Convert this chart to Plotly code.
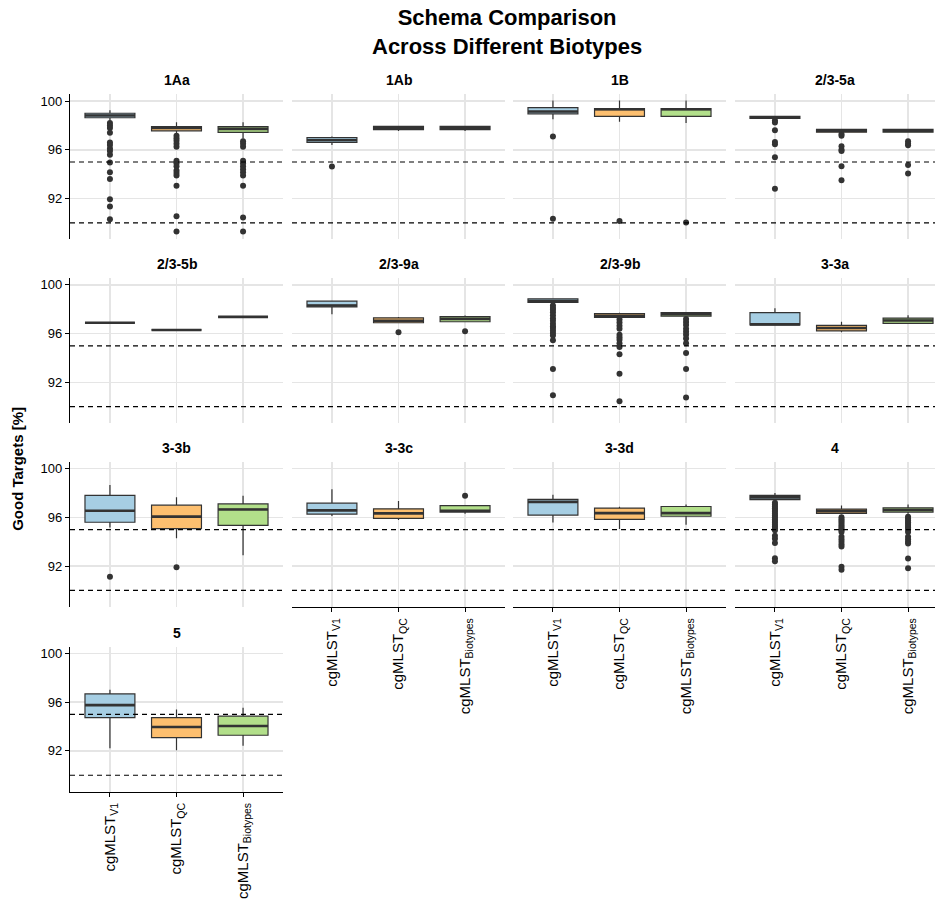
import plotly.graph_objects as go

PANELS = ["1Aa", "1Ab", "1B", "2/3-5a", "2/3-5b", "2/3-9a", "2/3-9b",
          "3-3a", "3-3b", "3-3c", "3-3d", "4", "5"]
TICK_LABELS = ["cgMLST<sub>V1</sub>", "cgMLST<sub>QC</sub>", "cgMLST<sub>Biotypes</sub>"]
Y_TICKS = [92, 96, 100]
THRESHOLDS = [95, 90]

# cgMLST V1
V1_LO = [98.40, 96.40, 98.50, 98.58, 96.89, 97.59, 98.50, 96.70, 95.17, 96.11, 95.58, 97.30, 92.22]
V1_Q1 = [98.63, 96.60, 98.95, 98.58, 96.89, 98.20, 98.55, 96.72, 95.60, 96.27, 96.19, 97.45, 94.72]
V1_MED = [98.82, 96.78, 99.14, 98.66, 96.89, 98.31, 98.66, 96.76, 96.54, 96.57, 97.27, 97.64, 95.75]
V1_Q3 = [99.00, 97.00, 99.46, 98.74, 96.89, 98.66, 98.85, 97.72, 97.80, 97.16, 97.48, 97.80, 96.67]
V1_HI = [99.25, 97.10, 100.05, 98.74, 96.89, 98.66, 98.90, 98.07, 98.66, 98.31, 97.86, 97.99, 97.02]
V1_OUT = [
    [98.2, 98.0, 97.8, 97.4, 96.6, 96.4, 96.1, 95.9, 95.6, 94.95, 94.15, 93.6, 91.95, 91.35, 90.3],
    [94.64],
    [97.1, 90.35],
    [98.4, 98.25, 97.6, 96.65, 96.45, 95.4, 92.8],
    [],
    [],
    [98.3, 98.1, 97.95, 97.75, 97.5, 97.25, 97.05, 96.8, 96.6, 96.45, 96.25, 96.05, 95.85, 95.45, 93.1, 90.95],
    [],
    [91.13],
    [],
    [],
    [97.2, 97.05, 96.9, 96.75, 96.6, 96.45, 96.3, 96.15, 96.0, 95.85, 95.7, 95.55, 95.4, 95.25,
     95.1, 94.95, 94.5, 94.25, 93.9, 92.65, 92.4],
    [],
]

# cgMLST QC
QC_LO = [97.30, 97.55, 98.30, 97.45, 96.30, 96.85, 97.30, 96.11, 94.29, 95.79, 95.04, 96.25, 92.06]
QC_Q1 = [97.56, 97.65, 98.74, 97.45, 96.30, 96.89, 97.32, 96.22, 95.07, 95.92, 95.84, 96.33, 93.09]
QC_MED = [97.80, 97.77, 99.33, 97.56, 96.30, 97.05, 97.45, 96.46, 96.06, 96.33, 96.35, 96.51, 93.96]
QC_Q3 = [97.91, 97.92, 99.38, 97.67, 96.30, 97.29, 97.64, 96.68, 97.00, 96.70, 96.76, 96.68, 94.72]
QC_HI = [98.26, 97.98, 100.05, 97.67, 96.30, 97.37, 97.70, 96.97, 97.64, 97.35, 96.86, 96.97, 95.39]
QC_OUT = [
    [97.15, 96.95, 96.75, 96.5, 96.25, 95.1, 94.9, 94.65, 94.3, 94.1, 93.9, 93.05, 90.55, 89.3],
    [],
    [90.16],
    [97.3, 97.15, 96.3, 96.0, 95.9, 94.65, 93.5],
    [],
    [96.11],
    [97.15, 96.9, 96.65, 96.4, 95.9, 95.7, 95.5, 95.2, 94.9, 94.3, 92.7, 90.45],
    [],
    [91.9],
    [],
    [],
    [96.0, 95.85, 95.7, 95.55, 95.4, 95.25, 95.1, 94.95, 94.8, 94.4, 94.2, 94.0, 93.8, 93.6, 91.95, 91.7],
    [],
]

# cgMLST Biotypes
BIO_LO = [96.92, 97.55, 98.20, 97.45, 97.37, 96.94, 97.40, 96.80, 92.90, 96.30, 95.39, 96.30, 92.41]
BIO_Q1 = [97.43, 97.65, 98.74, 97.45, 97.37, 96.97, 97.43, 96.84, 95.34, 96.43, 96.09, 96.43, 93.28]
BIO_MED = [97.72, 97.77, 99.33, 97.56, 97.37, 97.21, 97.59, 97.08, 96.65, 96.54, 96.35, 96.60, 94.04]
BIO_Q3 = [97.91, 97.92, 99.38, 97.67, 97.37, 97.40, 97.72, 97.27, 97.10, 96.97, 96.89, 96.78, 94.85]
BIO_HI = [98.26, 97.98, 100.05, 97.67, 97.37, 97.48, 97.75, 97.51, 97.77, 97.02, 97.05, 97.05, 95.53]
BIO_OUT = [
    [96.7, 96.5, 96.25, 95.1, 94.9, 94.65, 94.4, 94.15, 93.9, 93.05, 90.45, 89.3],
    [],
    [90.03],
    [96.7, 96.5, 96.38, 94.75, 94.05],
    [],
    [96.19],
    [97.2, 96.95, 96.7, 96.4, 96.15, 95.9, 95.6, 95.2, 94.4, 93.1, 90.75],
    [],
    [],
    [97.77],
    [],
    [96.05, 95.9, 95.75, 95.6, 95.45, 95.3, 95.15, 95.0, 94.8, 94.4, 94.2, 94.0, 93.85, 92.63, 91.82],
    [],
]

FILLS = ["#A6CEE3", "#FDBF6F", "#B2DF8A"]
SCHEMA_STATS = [
    (V1_LO, V1_Q1, V1_MED, V1_Q3, V1_HI, V1_OUT),
    (QC_LO, QC_Q1, QC_MED, QC_Q3, QC_HI, QC_OUT),
    (BIO_LO, BIO_Q1, BIO_MED, BIO_Q3, BIO_HI, BIO_OUT),
]

W, H = 935, 899
FONT = "Liberation Sans, Arial, sans-serif"
DARK = "#333333"
GRID = "#E5E5E5"
BOX_W = 0.75

# panel geometry in pixels
COL_X = [(70, 283), (292, 505), (513, 726), (735, 935)]
ROW_Y = [(94, 240), (279, 425), (464, 610), (650, 796)]
UNIT = (283 - 70) / 3.2
X_RANGES = [[-0.6, 2.6], [-0.6, 2.6], [-0.6, 2.6], [-0.6, -0.6 + (935 - 735) / UNIT]]
Y_RANGE = [88.65, 100.55]
BOTTOM_PANELS = {9, 10, 11, 12}

fig = go.Figure()
layout = dict(
    width=W, height=H, autosize=False,
    margin=dict(l=0, r=0, t=0, b=0),
    paper_bgcolor="white", plot_bgcolor="white",
    showlegend=False,
    font=dict(family=FONT, color="black"),
)
annotations = []
shapes = []

for k, name in enumerate(PANELS):
    r, c = divmod(k, 4)
    n = "" if k == 0 else str(k + 1)
    x0, x1 = COL_X[c]
    y0, y1 = ROW_Y[r]
    xa = dict(
        domain=[x0 / W, x1 / W], range=X_RANGES[c], anchor="y" + n,
        tickvals=[0, 1, 2], ticktext=TICK_LABELS,
        showgrid=True, gridcolor=GRID, gridwidth=1.5, zeroline=False,
        showticklabels=k in BOTTOM_PANELS, tickangle=-90,
        tickfont=dict(size=15, color="black", family=FONT),
        showline=k in BOTTOM_PANELS, linecolor="black", linewidth=1.2,
        ticks="outside" if k in BOTTOM_PANELS else "", ticklen=4, tickcolor="black",
        fixedrange=True,
    )
    ya = dict(
        domain=[1 - y1 / H, 1 - y0 / H], range=Y_RANGE, anchor="x" + n,
        tickvals=Y_TICKS,
        showgrid=True, gridcolor=GRID, gridwidth=1.5, zeroline=False,
        showticklabels=c == 0, tickfont=dict(size=13, color="black", family=FONT),
        showline=c == 0, linecolor="black", linewidth=1.2,
        ticks="outside" if c == 0 else "", ticklen=4, tickcolor="black",
        fixedrange=True,
    )
    layout["xaxis" + n] = xa
    layout["yaxis" + n] = ya

    for j, (lo, q1, med, q3, hi, out) in enumerate(SCHEMA_STATS):
        fig.add_trace(go.Box(
            x=[j], q1=[q1[k]], median=[med[k]], q3=[q3[k]],
            lowerfence=[lo[k]], upperfence=[hi[k]], orientation="v",
            width=BOX_W, whiskerwidth=0, boxpoints=False,
            fillcolor=FILLS[j], line=dict(color=DARK, width=1.2),
            xaxis="x" + n, yaxis="y" + n, hoverinfo="skip",
        ))
        fig.add_trace(go.Scatter(
            x=[j - BOX_W / 2, j + BOX_W / 2], y=[med[k], med[k]], mode="lines",
            line=dict(color=DARK, width=2.6),
            xaxis="x" + n, yaxis="y" + n, hoverinfo="skip",
        ))
        if out[k]:
            fig.add_trace(go.Scatter(
                x=[j] * len(out[k]), y=out[k], mode="markers",
                marker=dict(size=6, color=DARK),
                xaxis="x" + n, yaxis="y" + n, hoverinfo="skip",
            ))

    for t in THRESHOLDS:
        shapes.append(dict(
            type="line", xref="x" + n + " domain", yref="y" + n,
            x0=0, x1=1, y0=t, y1=t, layer="above",
            line=dict(color="black", width=1.2, dash="5px,4px"),
        ))

    annotations.append(dict(
        text="<b>%s</b>" % name, xref="paper", yref="paper",
        x=((x0 + x1) / 2) / W, y=1 - (y0 - 14) / H,
        showarrow=False, xanchor="center", yanchor="middle",
        font=dict(size=14, color="black", family=FONT),
    ))

annotations.append(dict(
    text="<b>Good Targets [%]</b>", xref="paper", yref="paper",
    x=18 / W, y=1 - 471 / H, textangle=-90, showarrow=False,
    xanchor="center", yanchor="middle",
    font=dict(size=15, color="black", family=FONT),
))
annotations.append(dict(
    text="<b>Schema Comparison<br>Across Different Biotypes</b>", xref="paper", yref="paper",
    x=507 / W, y=1 - 31 / H, showarrow=False, xanchor="center", yanchor="middle",
    font=dict(size=22, color="black", family=FONT),
))

layout["annotations"] = annotations
layout["shapes"] = shapes
fig.update_layout(**layout)
fig.write_html(
    "out.html",
    config={"displayModeBar": False, "staticPlot": True},
    post_script="document.body.style.margin='0';document.body.style.overflow='hidden';",
)
